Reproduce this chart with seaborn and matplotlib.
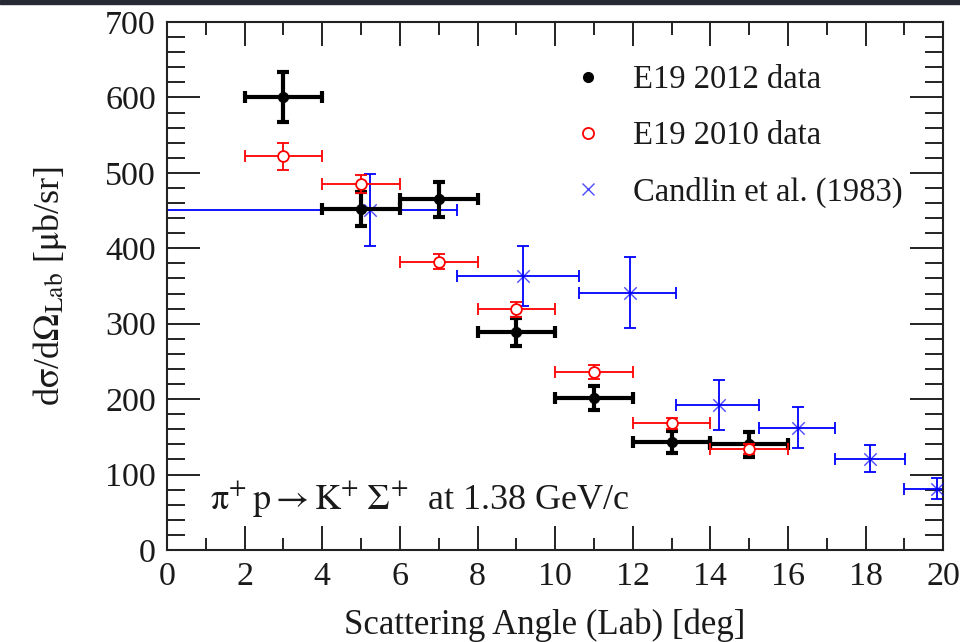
import matplotlib
matplotlib.use("Agg")
import matplotlib.pyplot as plt
from matplotlib.lines import Line2D
from matplotlib.patches import Rectangle
from matplotlib.ticker import MultipleLocator
import numpy as np
import pandas as pd
import seaborn as sns

# E19 2012 data (black, filled)
angle_2012 = [3, 5, 7, 9, 11, 13, 15]
xs_2012 = [601, 452, 465, 289, 201, 143, 140]
yerr_2012 = [33, 22, 23, 18, 16, 15, 17]
xerr_2012 = [1, 1, 1, 1, 1, 1, 1]

# E19 2010 data (red, open)
angle_2010 = [3, 5, 7, 9, 11, 13, 15]
xs_2010 = [522, 485, 382, 319, 236, 168, 134]
yerr_2010 = [18, 12, 10, 10, 9, 7, 7]
xerr_2010 = [1, 1, 1, 1, 1, 1, 1]

# Candlin et al. (1983) (blue, cross) - asymmetric angular bins
angle_cand = [5.24, 9.16, 11.93, 14.22, 16.27, 18.12, 19.85]
xs_cand = [451, 363, 341, 192, 162, 121, 81]
yerr_cand = [48, 40, 47, 33, 27, 18, 14]
xlo_cand = [5.24, 1.70, 1.31, 1.11, 1.01, 0.92, 0.85]
xhi_cand = [2.22, 1.46, 1.18, 1.04, 0.93, 0.90, 0.85]

df_2012 = pd.DataFrame({'angle': angle_2012, 'xs': xs_2012})
df_2010 = pd.DataFrame({'angle': angle_2010, 'xs': xs_2010})
df_cand = pd.DataFrame({'angle': angle_cand, 'xs': xs_cand})

sns.set_style("ticks")
plt.rcParams['font.family'] = ['Liberation Serif', 'DejaVu Serif']
plt.rcParams['mathtext.fontset'] = 'stix'

fig = plt.figure(figsize=(9.6, 6.42), dpi=100)
fig.patches.append(Rectangle((0, 0.9945), 1, 0.0055, transform=fig.transFigure,
                             color='#252a33', zorder=10))
ax = fig.add_axes([0.174, 0.1433, 0.8085, 0.8224])

# Candlin
ax.errorbar(angle_cand, xs_cand, yerr=yerr_cand, xerr=[xlo_cand, xhi_cand],
            fmt='none', ecolor='blue', elinewidth=1.3, capsize=4, capthick=1.3, zorder=2)
sns.scatterplot(data=df_cand, x='angle', y='xs', ax=ax, marker='x', color='blue',
                s=80, linewidth=1.0, alpha=0.7, zorder=3, legend=False)

# E19 2012
ax.errorbar(angle_2012, xs_2012, yerr=yerr_2012, xerr=xerr_2012,
            fmt='none', ecolor='black', elinewidth=3.0, capsize=4, capthick=3.0, zorder=4)
sns.scatterplot(data=df_2012, x='angle', y='xs', ax=ax, marker='o', color='black',
                s=55, edgecolor='black', zorder=5, legend=False)

# E19 2010
ax.errorbar(angle_2010, xs_2010, yerr=yerr_2010, xerr=xerr_2010,
            fmt='none', ecolor='red', elinewidth=1.3, capsize=4, capthick=1.3, zorder=6)
sns.scatterplot(data=df_2010, x='angle', y='xs', ax=ax, marker='o', facecolor='white',
                edgecolor='red', linewidth=1.3, s=60, zorder=7, legend=False)

ax.set_xlim(0, 20)
ax.set_ylim(0, 700)
ax.xaxis.set_major_locator(MultipleLocator(2))
ax.xaxis.set_minor_locator(MultipleLocator(1))
ax.yaxis.set_major_locator(MultipleLocator(100))
ax.yaxis.set_minor_locator(MultipleLocator(20))
ax.tick_params(axis='both', which='both', direction='in', top=True, right=True,
               labelsize=24.5, width=1.4, colors='#222222', labelcolor='#1a1a1a')
ax.tick_params(axis='x', which='major', length=17, pad=8)
ax.tick_params(axis='x', which='minor', length=9)
ax.tick_params(axis='y', which='major', length=24, pad=8)
ax.tick_params(axis='y', which='minor', length=13)
for sp in ax.spines.values():
    sp.set_linewidth(1.5)
    sp.set_color('#222222')

ax.set_xlabel('Scattering Angle (Lab) [deg]', fontsize=25, color='#1a1a1a', labelpad=12)
ax.xaxis.label.set_x(0.487)
ax.set_ylabel(r'd$\mathrm{\sigma}$/d$\mathrm{\Omega}_{\mathrm{Lab}}$ [$\mathrm{\mu}$b/sr]',
              fontsize=26, color='#1a1a1a', labelpad=26)
ax.yaxis.label.set_y(0.5)

ax.text(0.055, 0.076, r'$\mathrm{\pi^{+}\,p \rightarrow K^{+}\;\Sigma^{+}}$  at 1.38 GeV/c',
        transform=ax.transAxes, fontsize=26, color='#1a1a1a')

handles = [
    Line2D([], [], marker='o', linestyle='none', color='black', markersize=7),
    Line2D([], [], marker='o', linestyle='none', markerfacecolor='white',
           markeredgecolor='red', markeredgewidth=1.3, markersize=8),
    Line2D([], [], marker='x', linestyle='none', color='blue', markersize=8, alpha=0.7),
]
labels = ['E19 2012 data', 'E19 2010 data', 'Candlin et al. (1983)']
ax.legend(handles, labels, loc='upper right', bbox_to_anchor=(0.985, 0.975),
          frameon=False, fontsize=23.5, handlelength=1.0, handletextpad=0.85,
          labelspacing=0.78, labelcolor='#1a1a1a')

fig.savefig('out.png', dpi=100)
